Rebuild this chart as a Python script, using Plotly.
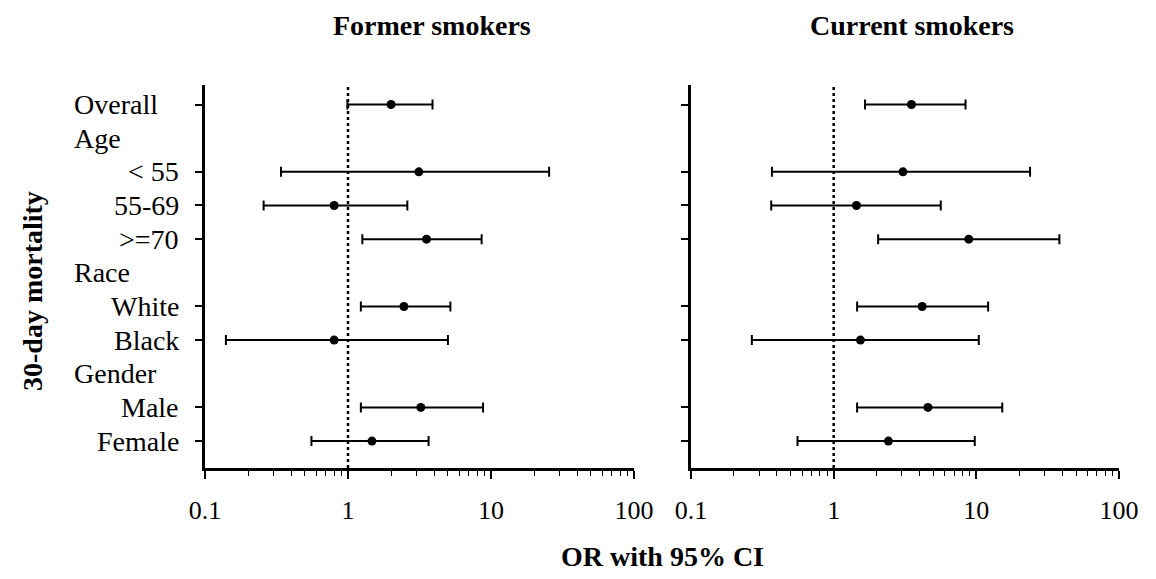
import plotly.graph_objects as go
from plotly.subplots import make_subplots

# ---- data ----
row_labels = ["Overall", "Age", "< 55", "55-69", ">=70", "Race", "White", "Black", "Gender", "Male", "Female"]
header_labels = ["Overall", "Age", "Race", "Gender"]
data_labels = ["Overall", "< 55", "55-69", ">=70", "White", "Black", "Male", "Female"]

former_or = [2.0, 3.13, 0.80, 3.54, 2.46, 0.80, 3.23, 1.47]
former_lo = [0.99, 0.34, 0.257, 1.26, 1.23, 0.14, 1.23, 0.555]
former_hi = [3.9, 25.5, 2.6, 8.6, 5.2, 5.0, 8.8, 3.66]

current_or = [3.51, 3.06, 1.445, 8.85, 4.17, 1.54, 4.58, 2.42]
current_lo = [1.66, 0.369, 0.365, 2.05, 1.46, 0.267, 1.46, 0.558]
current_hi = [8.4, 23.8, 5.63, 38.2, 12.1, 10.4, 15.2, 9.75]

panel_titles = ["Former smokers", "Current smokers"]
x_ticks = [0.1, 1, 10, 100]
x_ticktext = ["0.1", "1", "10", "100"]
minor_ticks = [0.2, 0.3, 0.4, 0.5, 0.6, 0.7, 0.8, 0.9,
               2, 3, 4, 5, 6, 7, 8, 9,
               20, 30, 40, 50, 60, 70, 80, 90]

FONT = "Liberation Serif"
W, H = 1156, 579
OFF = 8  # page body margin
L, T = 205 - OFF, 85 - OFF
RIGHT, BOTTOM = 1119 - OFF, 468 - OFF
R, B = W - RIGHT, H - BOTTOM
PW, PH = RIGHT - L, BOTTOM - T

fig = make_subplots(rows=1, cols=2, horizontal_spacing=0.0)

ypos = [row_labels.index(lab) for lab in data_labels]

for col, (orv, lo, hi) in enumerate([(former_or, former_lo, former_hi),
                                      (current_or, current_lo, current_hi)], start=1):
    fig.add_trace(go.Scatter(
        x=orv, y=ypos, mode="markers",
        marker=dict(color="black", size=9),
        error_x=dict(type="data", symmetric=False,
                     array=[h - o for h, o in zip(hi, orv)],
                     arrayminus=[o - l for o, l in zip(orv, lo)],
                     color="black", thickness=2, width=5),
        showlegend=False, hoverinfo="x+y"), row=1, col=col)

def px_x(p):
    return (p - OFF - L) / PW

def px_y(p):
    return 1 - (p - OFF - T) / PH

dom_left = [0, px_x(634)]
dom_right = [px_x(691), 1]

xcommon = dict(type="log", range=[-1, 2], showgrid=False, zeroline=False,
               showline=True, linecolor="black", linewidth=2.8,
               ticks="outside", ticklen=8, tickwidth=1.6, tickcolor="black",
               tickvals=x_ticks, ticktext=x_ticktext,
               tickfont=dict(family=FONT, size=26, color="black"),
               ticklabelstandoff=9,
               minor=dict(tickvals=minor_ticks, ticks="outside", ticklen=5,
                          tickwidth=1.4, tickcolor="black", showgrid=False))
ycommon = dict(range=[10.8, -0.58], showgrid=False, zeroline=False,
               showline=True, linecolor="black", linewidth=2.8,
               ticks="outside", ticklen=7, tickwidth=1.6, tickcolor="black",
               tickvals=ypos, ticktext=[""] * len(ypos))

fig.update_layout(xaxis=dict(domain=dom_left, **xcommon),
                  xaxis2=dict(domain=dom_right, **xcommon),
                  yaxis=dict(**ycommon), yaxis2=dict(**ycommon))

# reference line at OR = 1
for xr, yr in [("x", "y domain"), ("x2", "y2 domain")]:
    fig.add_shape(type="line", xref=xr, yref=yr, x0=1, x1=1, y0=0, y1=1,
                  line=dict(color="black", width=2.5, dash="dot"))

annotations = []
for lab in row_labels:
    r = row_labels.index(lab)
    if lab in header_labels:
        annotations.append(dict(x=px_x(72), xref="paper", y=r, yref="y",
                                text=lab, xanchor="left", yanchor="middle",
                                showarrow=False,
                                font=dict(family=FONT, size=28, color="black")))
    else:
        annotations.append(dict(x=px_x(181), xref="paper", y=r, yref="y",
                                text=lab, xanchor="right", yanchor="middle",
                                showarrow=False,
                                font=dict(family=FONT, size=28, color="black")))

annotations.append(dict(x=px_x(432), y=px_y(25), xref="paper", yref="paper",
                        text="<b>" + panel_titles[0] + "</b>", showarrow=False,
                        xanchor="center", yanchor="middle",
                        font=dict(family=FONT, size=28, color="black")))
annotations.append(dict(x=px_x(912), y=px_y(25), xref="paper", yref="paper",
                        text="<b>" + panel_titles[1] + "</b>", showarrow=False,
                        xanchor="center", yanchor="middle",
                        font=dict(family=FONT, size=28, color="black")))
annotations.append(dict(x=px_x(662), y=px_y(556), xref="paper", yref="paper",
                        text="<b>OR with 95% CI</b>", showarrow=False,
                        xanchor="center", yanchor="middle",
                        font=dict(family=FONT, size=28, color="black")))
annotations.append(dict(x=px_x(32), y=px_y(291), xref="paper", yref="paper",
                        text="<b>30-day mortality</b>", showarrow=False,
                        textangle=-90, xanchor="center", yanchor="middle",
                        font=dict(family=FONT, size=28, color="black")))

fig.update_layout(annotations=annotations,
                  width=W, height=H,
                  margin=dict(l=L, r=R, t=T, b=B, pad=0),
                  paper_bgcolor="white", plot_bgcolor="white")

fig.write_html("out.html")
